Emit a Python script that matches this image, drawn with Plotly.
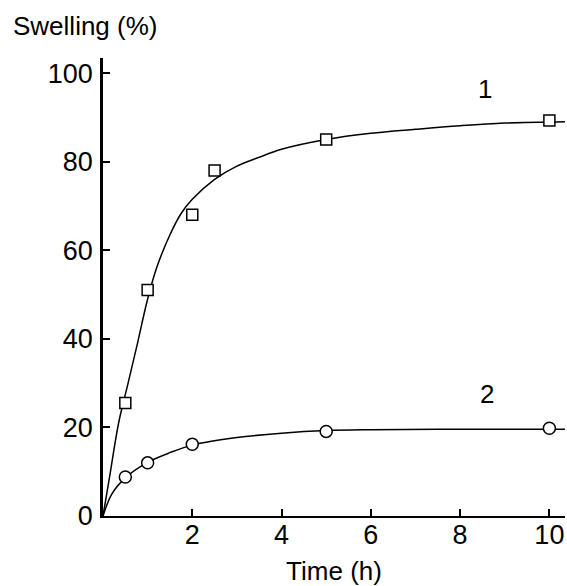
import plotly.graph_objects as go

# Measured points
time1 = [0.5, 1, 2, 2.5, 5, 10]
swell1 = [25.5, 51, 68, 78, 85, 89.3]
time2 = [0.5, 1, 2, 5, 10]
swell2 = [8.8, 12, 16.2, 19.1, 19.8]

# Fitted curves
fit1_t = [0, 0.15, 0.35, 0.55, 0.75, 1.0, 1.2, 1.5, 1.75, 2.0, 2.5, 3.0, 3.5, 4.0, 5.0, 6.0, 7.0, 8.0, 9.0, 10.35]
fit1_y = [0, 9, 21, 29.5, 38, 49, 56, 63.5, 68.3, 71.5, 76, 79, 81, 82.8, 85, 86.4, 87.3, 88.1, 88.7, 89]
fit2_t = [0, 0.2, 0.5, 1.0, 1.5, 2.0, 3.0, 4.0, 5.0, 6.0, 8.0, 10.35]
fit2_y = [0, 5, 8.6, 12.1, 14.3, 16.0, 17.7, 18.7, 19.3, 19.5, 19.6, 19.6]

xticks = [2, 4, 6, 8, 10]
yticks = [0, 20, 40, 60, 80, 100]

fig = go.Figure()
fig.add_trace(go.Scatter(x=fit1_t, y=fit1_y, mode="lines", line=dict(color="black", width=1.5, shape="spline"), showlegend=False))
fig.add_trace(go.Scatter(x=fit2_t, y=fit2_y, mode="lines", line=dict(color="black", width=1.5, shape="spline"), showlegend=False))
fig.add_trace(go.Scatter(x=time1, y=swell1, mode="markers",
                         marker=dict(symbol="square", size=11, color="white", line=dict(color="black", width=1.5)), showlegend=False))
fig.add_trace(go.Scatter(x=time2, y=swell2, mode="markers",
                         marker=dict(symbol="circle", size=12, color="white", line=dict(color="black", width=1.5)), showlegend=False))

fig.add_annotation(x=8.55, y=96.4, text="1", showarrow=False, font=dict(size=26, color="black"))
fig.add_annotation(x=8.6, y=27.5, text="2", showarrow=False, font=dict(size=26, color="black"))
fig.add_annotation(xref="paper", yref="paper", x=-0.2, y=1.07, xanchor="left", yanchor="middle",
                   text="Swelling (%)", showarrow=False, font=dict(size=26, color="black"))

fig.update_layout(
    width=567, height=586,
    margin=dict(l=103, r=2, t=58, b=70, autoexpand=False),
    plot_bgcolor="white", paper_bgcolor="white",
    font=dict(family="Liberation Sans, Arial, sans-serif", color="black", size=26),
    xaxis=dict(range=[0, 10.35], tickvals=xticks, ticks="inside", ticklen=7, tickwidth=1.5, tickcolor="black",
               showline=True, linecolor="black", linewidth=2, showgrid=False, zeroline=False,
               tickfont=dict(size=27), automargin=False, ticklabelstandoff=-6,
               title=dict(text="Time (h)", font=dict(size=26), standoff=12)),
    yaxis=dict(range=[0, 103.4], tickvals=yticks, ticks="inside", ticklen=7, tickwidth=1.5, tickcolor="black",
               showline=True, linecolor="black", linewidth=2.5, showgrid=False, zeroline=False,
               tickfont=dict(size=27), automargin=False, ticklabelstandoff=2),
)

fig.write_html("out.html", config={"displayModeBar": False}, post_script="document.body.style.margin='0';")
